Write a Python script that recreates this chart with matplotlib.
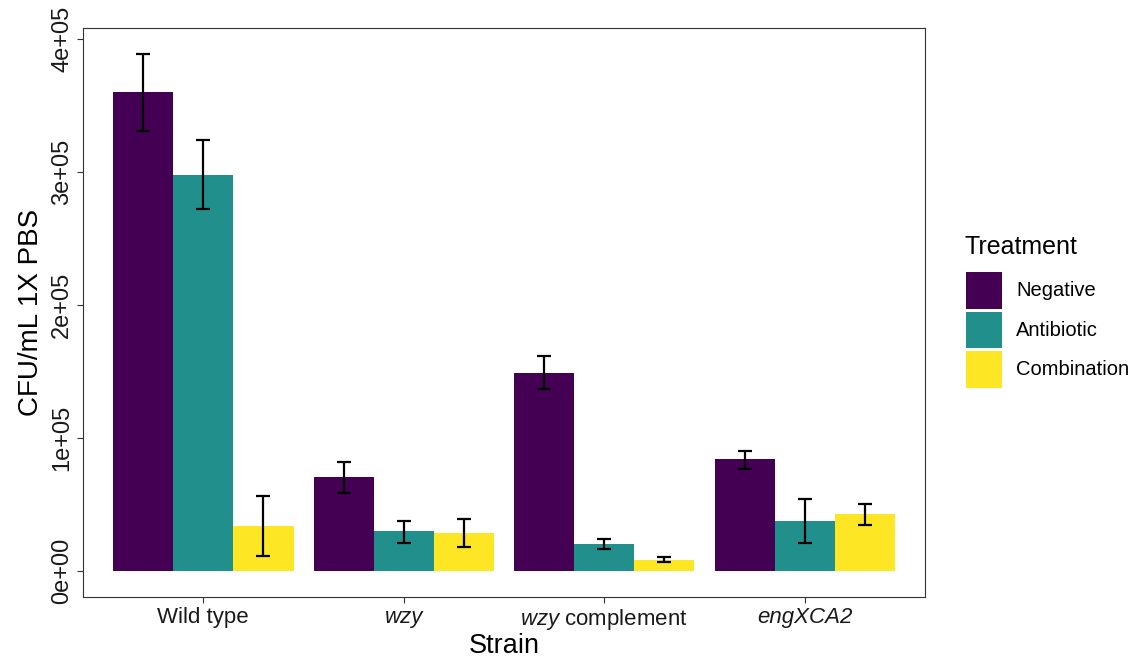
import matplotlib
matplotlib.use("Agg")
import matplotlib.pyplot as plt
from matplotlib.patches import Rectangle
import numpy as np

plt.rcParams['font.family'] = ['Liberation Sans', 'DejaVu Sans']
plt.rcParams['mathtext.fontset'] = 'custom'
plt.rcParams['mathtext.rm'] = 'Liberation Sans'
plt.rcParams['mathtext.it'] = 'Liberation Sans:italic'

strains = ['Wild type', 'wzy', r'$\it{wzy}$ complement', 'engXCA2']
strain_italic = [False, True, False, True]
treatments = ['Negative', 'Antibiotic', 'Combination']
colors = ['#440154', '#21908C', '#FDE725']

negative = [3.60e5, 0.705e5, 1.49e5, 0.84e5]
negative_lo = [3.31e5, 0.59e5, 1.37e5, 0.77e5]
negative_hi = [3.89e5, 0.82e5, 1.62e5, 0.905e5]

antibiotic = [2.98e5, 0.30e5, 0.205e5, 0.38e5]
antibiotic_lo = [2.72e5, 0.21e5, 0.17e5, 0.21e5]
antibiotic_hi = [3.245e5, 0.38e5, 0.24e5, 0.54e5]

combination = [0.34e5, 0.29e5, 0.085e5, 0.43e5]
combination_lo = [0.113e5, 0.185e5, 0.068e5, 0.35e5]
combination_hi = [0.566e5, 0.395e5, 0.107e5, 0.507e5]

series = [(negative, negative_lo, negative_hi),
          (antibiotic, antibiotic_lo, antibiotic_hi),
          (combination, combination_lo, combination_hi)]

W, H = 1135, 658
fig = plt.figure(figsize=(W / 100, H / 100), dpi=100)
ax = fig.add_axes([83/W, 61/H, 842/W, 569/H])

x = np.arange(1, len(strains) + 1)
w = 0.3
for i, (vals, lo, hi) in enumerate(series):
    xs = x + (i - 1) * w
    ax.bar(xs, vals, width=w, color=colors[i], edgecolor='none', label=treatments[i])
    for xx, l, h in zip(xs, lo, hi):
        ax.plot([xx, xx], [l, h], color='black', lw=1.6, solid_capstyle='butt')
        ax.plot([xx - 0.035, xx + 0.035], [l, l], color='black', lw=1.6, solid_capstyle='butt')
        ax.plot([xx - 0.035, xx + 0.035], [h, h], color='black', lw=1.6, solid_capstyle='butt')

ax.set_xlim(0.4, 4.6)
ax.set_ylim(-0.1945e5, 4.085e5)
ax.set_xticks(x)
ax.set_xticklabels(strains, fontsize=16, color='#1a1a1a')
for lab, it in zip(ax.get_xticklabels(), strain_italic):
    if it:
        lab.set_fontstyle('italic')
yt = [0, 1e5, 2e5, 3e5, 4e5]
ax.set_yticks(yt)
ax.set_yticklabels(['0e+00', '1e+05', '2e+05', '3e+05', '4e+05'], fontsize=17,
                   rotation=90, va='center', color='#1a1a1a')
ax.tick_params(axis='both', length=4, width=0.8, color='#333333', pad=3)
for s in ax.spines.values():
    s.set_color('#333333')
    s.set_linewidth(0.8)

ax.set_xlabel('Strain', fontsize=19.5, labelpad=1)
ax.set_ylabel('CFU/mL 1X PBS', fontsize=20, labelpad=5)

# legend drawn in figure pixel coordinates
fig.text(965/W, 1 - 247/H, 'Treatment', fontsize=18, ha='left', va='center')
key_tops = [272, 311.5, 351]
for c, lab, top in zip(colors, treatments, key_tops):
    fig.add_artist(Rectangle((966/W, 1 - (top + 36.5)/H), 36/W, 36.5/H,
                             transform=fig.transFigure, facecolor=c, edgecolor='none'))
    fig.text(1016/W, 1 - (top + 18.5)/H, lab, fontsize=14.5, ha='left', va='center')

fig.savefig('out.png', dpi=100)
